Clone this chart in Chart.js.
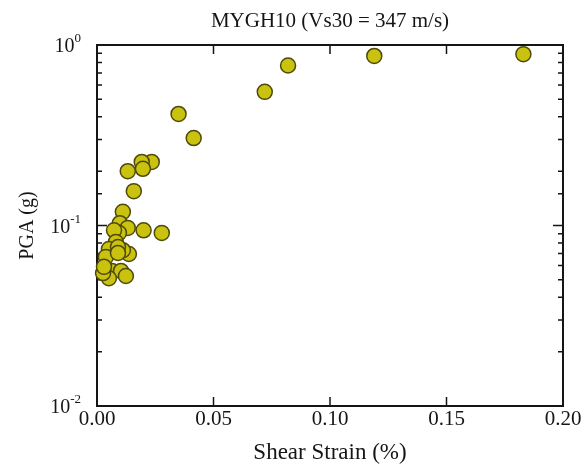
<!DOCTYPE html>
<html>
<head>
<meta charset="utf-8">
<script src="https://cdn.jsdelivr.net/npm/chart.js@4"></script>
<style>
  html, body { margin: 0; padding: 0; background: #fff; }
  #wrap { width: 586px; height: 471px; }
</style>
</head>
<body>
<div id="wrap"><canvas id="chart" width="586" height="471"></canvas></div>
<script>
// values
const chartTitle = 'MYGH10 (Vs30 = 347 m/s)';
const xTitle = 'Shear Strain (%)';
const yTitle = 'PGA (g)';

const shearStrain = [
  0.183, 0.119, 0.082, 0.072, 0.0415, 0.035, 0.0235, 0.0192, 0.0197, 0.0132,
  0.0158, 0.0111, 0.0098, 0.0132, 0.0200, 0.0278, 0.0094, 0.0073, 0.0081, 0.0051,
  0.0137, 0.0038, 0.0111, 0.0090, 0.0090, 0.0047, 0.0064, 0.0103, 0.0124, 0.0051,
  0.0026, 0.0030
];
const pga = [
  0.89, 0.87, 0.77, 0.55, 0.305, 0.415, 0.225, 0.225, 0.206, 0.20,
  0.155, 0.119, 0.103, 0.097, 0.094, 0.091, 0.091, 0.094, 0.081, 0.074,
  0.0695, 0.067, 0.073, 0.076, 0.0705, 0.055, 0.056, 0.056, 0.0525, 0.051,
  0.0545, 0.059
];

const xTicks = [0, 0.05, 0.10, 0.15, 0.20];
const yRange = [0.01, 1];

const serif = '"Liberation Serif", "DejaVu Serif", serif';
const ink = '#151515';

// frame with inward ticks, and the 10^n labels on the y axis
const frameTicks = {
  id: 'frameTicks',
  beforeDatasetsDraw(chart) {
    const { ctx, chartArea: a, scales } = chart;
    const x = scales.x, y = scales.y;
    ctx.save();
    ctx.strokeStyle = ink;
    ctx.lineWidth = 1.5;
    ctx.beginPath();
    x.ticks.forEach(t => {
      const px = x.getPixelForValue(t.value);
      if (px <= a.left + 1 || px >= a.right - 1) return;
      ctx.moveTo(px, a.bottom); ctx.lineTo(px, a.bottom - 9);
      ctx.moveTo(px, a.top); ctx.lineTo(px, a.top + 9);
    });
    y.ticks.forEach(t => {
      const py = y.getPixelForValue(t.value);
      if (py <= a.top + 1 || py >= a.bottom - 1) return;
      const len = t.major ? 10 : 5;
      ctx.moveTo(a.left, py); ctx.lineTo(a.left + len, py);
      ctx.moveTo(a.right, py); ctx.lineTo(a.right - len, py);
    });
    ctx.stroke();
    ctx.lineWidth = 2;
    ctx.strokeRect(a.left, a.top, a.right - a.left, a.bottom - a.top);

    ctx.fillStyle = ink;
    ctx.textBaseline = 'alphabetic';
    y.ticks.forEach(t => {
      if (!t.major) return;
      const py = y.getPixelForValue(t.value);
      const exp = String(Math.round(Math.log10(t.value)));
      ctx.font = '13px ' + serif;
      const ew = ctx.measureText(exp).width;
      const right = a.left - 16;
      ctx.textAlign = 'left';
      ctx.fillText(exp, right - ew, py - 3);
      ctx.font = '20px ' + serif;
      ctx.textAlign = 'right';
      ctx.fillText('10', right - ew, py + 7);
    });
    ctx.restore();
  }
};

new Chart(document.getElementById('chart'), {
  type: 'scatter',
  data: {
    datasets: [{
      data: shearStrain.map((v, i) => ({ x: v, y: pga[i] })),
      backgroundColor: '#c9c20f',
      borderColor: '#4f4a0a',
      borderWidth: 1.5,
      pointRadius: 7.5,
      clip: false
    }]
  },
  options: {
    responsive: false,
    animation: false,
    layout: { padding: { right: 23 } },
    plugins: {
      legend: { display: false },
      tooltip: { enabled: false },
      title: {
        display: true,
        text: chartTitle,
        fullSize: false,
        color: ink,
        font: { family: serif, size: 21, weight: 'normal' },
        padding: { top: 9, bottom: 10.8 }
      }
    },
    scales: {
      x: {
        type: 'linear',
        min: xTicks[0],
        max: xTicks[xTicks.length - 1],
        afterBuildTicks: s => { s.ticks = xTicks.map(v => ({ value: v })); },
        afterFit: s => { s.height = 65; },
        grid: { display: false, drawTicks: false },
        border: { display: false },
        ticks: {
          padding: 1,
          color: ink,
          font: { family: serif, size: 21 },
          callback: v => Number(v).toFixed(2)
        },
        title: {
          display: true,
          text: xTitle,
          color: ink,
          font: { family: serif, size: 23 },
          padding: { top: 0, bottom: 4 }
        }
      },
      y: {
        type: 'logarithmic',
        min: yRange[0],
        max: yRange[1],
        afterFit: s => { s.width = 97; },
        grid: { display: false, drawTicks: false },
        border: { display: false },
        ticks: { display: false },
        title: {
          display: true,
          text: yTitle,
          color: ink,
          font: { family: serif, size: 20 },
          padding: { top: 16, bottom: 0 }
        }
      }
    }
  },
  plugins: [frameTicks]
});
</script>
</body>
</html>
